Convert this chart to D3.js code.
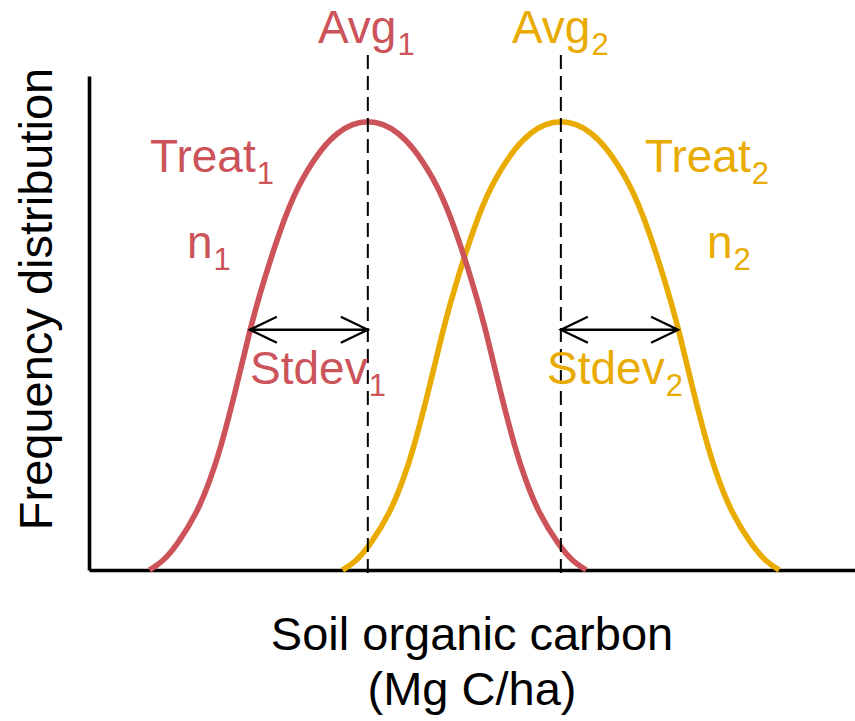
<!DOCTYPE html>
<html>
<head>
<meta charset="utf-8">
<script src="https://cdn.jsdelivr.net/npm/d3@7"></script>
<style>
  html, body { margin: 0; padding: 0; background: #fff; }
  svg { display: block; }
  text { font-family: "Liberation Sans", Arial, sans-serif; }
</style>
</head>
<body>
<div id="chart"></div>
<script>
// ---- data ----
// soil organic carbon (relative units) and frequency (relative, peak = 1)
const socTreat1  = [7.9, 9.6, 11.5, 14.2, 15.8, 17.1, 19.3, 21.0, 22.7, 25.8, 27.9, 30.5, 32.5, 34.4, 36.4, 38.4, 40.3, 42.3, 44.9, 47.0, 50.1, 51.8, 53.5, 55.7, 57.0, 58.6, 61.3, 63.2, 64.9];
const freqTreat1 = [0, 0.018, 0.055, 0.130, 0.200, 0.265, 0.410, 0.535, 0.640, 0.800, 0.875, 0.942, 0.975, 0.994, 1.0, 0.994, 0.975, 0.942, 0.875, 0.800, 0.640, 0.535, 0.410, 0.265, 0.200, 0.130, 0.055, 0.018, 0];
const socTreat2  = [33.1, 34.8, 36.7, 39.4, 41.0, 42.3, 44.5, 46.2, 47.9, 51.0, 53.1, 55.7, 57.7, 59.6, 61.6, 63.6, 65.5, 67.5, 70.1, 72.2, 75.3, 77.0, 78.7, 80.9, 82.2, 83.8, 86.5, 88.4, 90.1];
const freqTreat2 = [0, 0.018, 0.055, 0.130, 0.200, 0.265, 0.410, 0.535, 0.640, 0.800, 0.875, 0.942, 0.975, 0.994, 1.0, 0.994, 0.975, 0.942, 0.875, 0.800, 0.640, 0.535, 0.410, 0.265, 0.200, 0.130, 0.055, 0.018, 0];
const avgValues   = [36.4, 61.6];
const stdevValues = [15.4, 15.3];
const stdevDirection = [-1, 1];
const stdevLevel = 0.535;
const groupIds = ["1", "2"];
const seriesColors = ["#CB5359", "#E9AB00"];
const xTitleLines = ["Soil organic carbon", "(Mg C/ha)"];
const yTitle = "Frequency distribution";

// ---- layout ----
const W = 855, H = 721;
const svg = d3.select("#chart").append("svg").attr("width", W).attr("height", H);
svg.append("rect").attr("width", W).attr("height", H).attr("fill", "#fff");

const x = d3.scaleLinear().domain([0, 100]).range([89, 855]);
const y = d3.scaleLinear().domain([0, 1.1]).range([570, 76]);

// axes (lines only)
const xAxis = d3.axisBottom(x).tickValues([]).tickSizeOuter(0);
const yAxis = d3.axisLeft(y).tickValues([]).tickSizeOuter(0);
svg.append("g").attr("transform", `translate(0,${y(0)})`).call(xAxis)
  .select(".domain").attr("stroke", "#000").attr("stroke-width", 3.6);
svg.append("g").attr("transform", `translate(${x(0)},0)`).call(yAxis)
  .select(".domain").attr("stroke", "#000").attr("stroke-width", 3.6);

const series = [
  { soc: socTreat2, freq: freqTreat2, color: seriesColors[1] },
  { soc: socTreat1, freq: freqTreat1, color: seriesColors[0] }
];
const line = d3.line()
  .x(d => x(d[0])).y(d => y(d[1]))
  .curve(d3.curveBasis);

svg.append("g").selectAll("path.curve").data(series).join("path")
  .attr("class", "curve")
  .attr("d", s => line(d3.zip(s.soc, s.freq)))
  .attr("fill", "none")
  .attr("stroke", s => s.color)
  .attr("stroke-width", 5.6)
  .attr("stroke-linecap", "butt");

// average dashed lines
svg.append("g").selectAll("line.avg").data(avgValues).join("line")
  .attr("class", "avg")
  .attr("x1", d => x(d)).attr("x2", d => x(d))
  .attr("y1", 55).attr("y2", y(0) + 6)
  .attr("stroke", "#000").attr("stroke-width", 2)
  .attr("stroke-dasharray", "14,7");

// stdev double arrows
const arrowG = svg.append("g");
avgValues.forEach((a, i) => {
  const x0 = x(a), x1 = x(a + stdevDirection[i] * stdevValues[i]);
  const yy = y(stdevLevel);
  const left = Math.min(x0, x1), right = Math.max(x0, x1);
  const hx = 27, hy = 13;
  arrowG.append("path")
    .attr("d", `M${left},${yy}H${right}` +
               `M${left + hx},${yy - hy}L${left},${yy}L${left + hx},${yy + hy}` +
               `M${right - hx},${yy - hy}L${right},${yy}L${right - hx},${yy + hy}`)
    .attr("fill", "none").attr("stroke", "#000").attr("stroke-width", 2.3)
    .attr("stroke-linejoin", "miter");
});

// labels with subscripts
const labelDefs = [
  { main: "Avg",   g: 0, px: 318, py: 43 },
  { main: "Avg",   g: 1, px: 512, py: 43 },
  { main: "Treat", g: 0, px: 150, py: 172 },
  { main: "n",     g: 0, px: 187, py: 258 },
  { main: "Stdev", g: 0, px: 250, py: 384 },
  { main: "Treat", g: 1, px: 645, py: 172 },
  { main: "n",     g: 1, px: 707, py: 258 },
  { main: "Stdev", g: 1, px: 547, py: 384 }
];
labelDefs.forEach(l => {
  const t = svg.append("text")
    .attr("x", l.px).attr("y", l.py)
    .attr("fill", seriesColors[l.g])
    .attr("font-size", 46);
  t.append("tspan").text(l.main);
  t.append("tspan").attr("font-size", 31).attr("dx", 1).attr("dy", 12).text(groupIds[l.g]);
});

// axis titles
svg.append("text")
  .attr("transform", "translate(52,299) rotate(-90)")
  .attr("text-anchor", "middle")
  .attr("font-size", 47).attr("fill", "#000")
  .text(yTitle);
const xt = svg.append("text").attr("text-anchor", "middle").attr("font-size", 47).attr("fill", "#000");
xTitleLines.forEach((s, i) => {
  xt.append("tspan").attr("x", 472).attr("y", 650 + i * 55).text(s);
});
</script>
</body>
</html>
